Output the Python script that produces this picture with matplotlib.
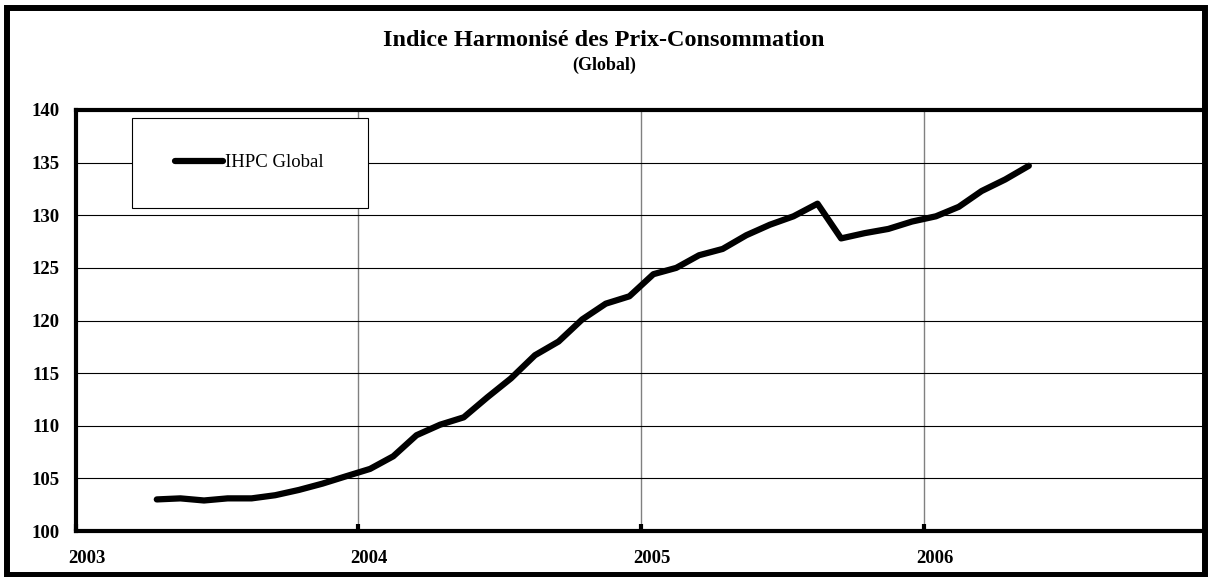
import matplotlib
matplotlib.use("Agg")
import matplotlib.pyplot as plt
import matplotlib.dates as mdates
from matplotlib.patches import Rectangle
from matplotlib.transforms import ScaledTranslation
import pandas as pd

plt.rcParams['font.family'] = ['Liberation Serif', 'DejaVu Serif']

# Monthly harmonised consumer price index, April 2003 - May 2006
months = pd.period_range('2003-04', '2006-05', freq='M')
ihpc = [103.0, 103.1, 102.9, 103.1, 103.1, 103.4, 103.9, 104.5, 105.2,
        105.9, 107.1, 109.1, 110.1, 110.8, 112.7, 114.5, 116.7, 118.0, 120.1, 121.6, 122.3,
        124.4, 125.0, 126.2, 126.8, 128.1, 129.1, 129.9, 131.1, 127.8, 128.3, 128.7, 129.4,
        129.9, 130.8, 132.3, 133.4, 134.7]
years = ['2003', '2004', '2005', '2006']
yticks = [100, 105, 110, 115, 120, 125, 130, 135, 140]
series_name = 'IHPC Global'

# points sit in the middle of each month
dates = months.start_time + (months.end_time - months.start_time) / 2

W, H = 1208, 577
fig = plt.figure(figsize=(W / 100, H / 100), dpi=100)
ax = fig.add_axes([75.5 / W, 46 / H, 1131 / W, 421 / H])

ax.plot(dates, ihpc, color='black', lw=4.5, solid_capstyle='round',
        solid_joinstyle='round', label=series_name, zorder=3)

ax.set_xlim(pd.Timestamp('2003-01-01'), pd.Timestamp('2007-01-01'))
ax.set_ylim(100, 140)
ax.set_xticks(pd.to_datetime(years))
ax.xaxis.set_major_formatter(mdates.DateFormatter('%Y'))
ax.set_yticks(yticks)

ax.set_axisbelow(True)
ax.grid(axis='x', color='#808080', lw=1.0)
ax.grid(axis='y', color='black', lw=0.8)

ax.tick_params(axis='y', length=0, pad=11.5, labelsize=13.5)
ax.tick_params(axis='x', direction='in', length=5, width=3, pad=14, labelsize=13.5)
for lab in ax.get_xticklabels() + ax.get_yticklabels():
    lab.set_fontweight('bold')
# year labels sit a little to the right of their tick
for lab in ax.get_xticklabels():
    lab.set_transform(lab.get_transform() + ScaledTranslation(11 / 100, 0, fig.dpi_scale_trans))

for side in ['left', 'bottom', 'top']:
    ax.spines[side].set_linewidth(3)
ax.spines['right'].set_visible(False)

# legend box
ax.add_patch(Rectangle((0.0497, 0.767), 0.2088, 0.214, transform=ax.transAxes,
                       facecolor='white', edgecolor='black', lw=0.8, zorder=4))
leg = ax.legend(loc='center', bbox_to_anchor=(0.1535, 0.875), frameon=False,
                fontsize=13.5, handlelength=2.56, handletextpad=0.1)
leg.set_zorder(5)

fig.text(0.5, 1 - 40 / H, 'Indice Harmonisé des Prix-Consommation',
         ha='center', va='center', fontsize=17.5, fontweight='bold')
fig.text(0.5, 1 - 65 / H, '(Global)', ha='center', va='center',
         fontsize=13, fontweight='bold')

# outer chart border
fig.patches.append(Rectangle((7 / W, 2 / H), 1198 / W, 567 / H, transform=fig.transFigure,
                             fill=False, edgecolor='black', lw=4.3))

fig.savefig('out.png', dpi=100)
